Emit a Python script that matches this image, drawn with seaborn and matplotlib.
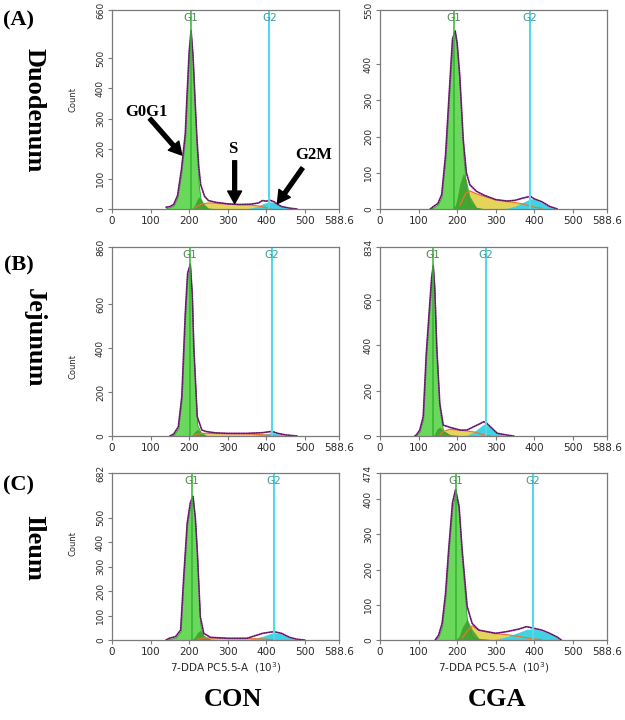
import numpy as np
import matplotlib
matplotlib.use("Agg")
import matplotlib.pyplot as plt
import seaborn as sns
from matplotlib.ticker import MultipleLocator, FixedLocator

# --- style ---
sns.set_style("white")
plt.rcParams["font.family"] = ["DejaVu Sans"]
SERIF = ["Liberation Serif", "DejaVu Serif"]

# --- data (channel x 10^3, counts) ---
# Duodenum, CON
A_CON_X = [140, 150, 160, 170, 180, 190, 195, 200, 205, 210, 215, 220, 225, 230, 240,
           250, 270, 300, 330, 360, 380, 390, 400, 410, 420, 430, 440, 460, 480]
A_CON_TOTAL = [6, 8, 15, 45, 130, 250, 390, 520, 592, 510, 370, 240, 140, 80, 42,
               28, 22, 17, 15, 16, 20, 28, 26, 29, 24, 15, 8, 3, 0]
A_CON_G1 = [3, 6, 12, 40, 120, 240, 380, 510, 580, 490, 340, 190, 80, 30, 6,
            1, 0, 0, 0, 0, 0, 0, 0, 0, 0, 0, 0, 0, 0]
A_CON_G1B = [0, 0, 0, 0, 0, 0, 0, 0, 0, 5, 15, 30, 40, 35, 15,
             3, 0, 0, 0, 0, 0, 0, 0, 0, 0, 0, 0, 0, 0]
A_CON_S = [0, 0, 0, 0, 0, 0, 0, 0, 0, 0, 3, 8, 12, 15, 18,
           20, 19, 16, 14, 13, 10, 7, 4, 2, 0, 0, 0, 0, 0]
A_CON_G2 = [0, 0, 0, 0, 0, 0, 0, 0, 0, 0, 0, 0, 0, 0, 0,
            0, 0, 0, 0, 3, 10, 17, 21, 24, 22, 14, 8, 2, 0]

# Duodenum, CGA
A_CGA_X = [130, 140, 150, 160, 170, 180, 188, 195, 200, 207, 216, 224, 233, 250, 270,
           300, 330, 350, 370, 390, 400, 420, 440, 460]
A_CGA_TOTAL = [0, 8, 15, 40, 150, 330, 470, 492, 460, 366, 190, 100, 67, 49, 38,
               26, 22, 24, 30, 35, 28, 20, 7, 0]
A_CGA_G1 = [0, 5, 12, 35, 140, 320, 460, 480, 440, 330, 150, 50, 15, 2, 0,
            0, 0, 0, 0, 0, 0, 0, 0, 0]
A_CGA_G1B = [0, 0, 0, 0, 0, 0, 0, 10, 30, 70, 98, 80, 35, 5, 0,
             0, 0, 0, 0, 0, 0, 0, 0, 0]
A_CGA_S = [0, 0, 0, 0, 0, 0, 0, 0, 0, 10, 30, 45, 50, 42, 35,
           25, 20, 18, 14, 8, 5, 2, 0, 0]
A_CGA_G2 = [0, 0, 0, 0, 0, 0, 0, 0, 0, 0, 0, 0, 0, 0, 0,
            0, 2, 8, 18, 28, 28, 18, 6, 0]

# Jejunum, CON
B_CON_X = [150, 160, 172, 181, 190, 196, 203, 208, 212, 221, 233, 245, 270, 300, 350,
           390, 410, 420, 430, 450, 480]
B_CON_TOTAL = [0, 9, 42, 179, 558, 740, 782, 650, 406, 88, 27, 20, 14, 12, 12,
               15, 20, 18, 12, 5, 0]
B_CON_G1 = [0, 5, 35, 170, 550, 730, 770, 620, 370, 50, 5, 0, 0, 0, 0,
            0, 0, 0, 0, 0, 0]
B_CON_G1B = [0, 0, 0, 0, 0, 0, 0, 5, 15, 30, 15, 3, 0, 0, 0,
             0, 0, 0, 0, 0, 0]
B_CON_S = [0, 0, 0, 0, 0, 0, 0, 0, 3, 8, 12, 12, 11, 10, 9,
           6, 3, 1, 0, 0, 0]
B_CON_G2 = [0, 0, 0, 0, 0, 0, 0, 0, 0, 0, 0, 0, 0, 0, 0,
            8, 14, 15, 10, 4, 0]

# Jejunum, CGA
B_CGA_X = [90, 94, 103, 112, 120, 129, 134, 138, 142, 147, 155, 164, 182, 208, 225,
           243, 260, 269, 277, 286, 304, 330, 347]
B_CGA_TOTAL = [0, 4, 26, 85, 364, 584, 700, 752, 650, 394, 144, 48, 38, 26, 26,
               41, 55, 63, 56, 41, 12, 4, 0]
B_CGA_G1 = [0, 2, 20, 75, 350, 570, 690, 740, 630, 370, 110, 20, 3, 0, 0,
            0, 0, 0, 0, 0, 0, 0, 0]
B_CGA_G1B = [0, 0, 0, 0, 0, 0, 0, 0, 10, 30, 40, 25, 5, 0, 0,
             0, 0, 0, 0, 0, 0, 0, 0]
B_CGA_S = [0, 0, 0, 0, 0, 0, 0, 0, 0, 0, 5, 20, 30, 25, 22,
           18, 10, 6, 3, 1, 0, 0, 0]
B_CGA_G2 = [0, 0, 0, 0, 0, 0, 0, 0, 0, 0, 0, 0, 0, 0, 3,
            18, 40, 52, 50, 38, 12, 2, 0]

# Ileum, CON
C_CON_X = [140, 148, 165, 178, 186, 195, 203, 210, 216, 221, 229, 238, 255, 300, 350,
           390, 410, 420, 440, 460, 480, 500]
C_CON_TOTAL = [0, 7, 14, 41, 259, 477, 560, 587, 500, 368, 95, 27, 11, 7, 7,
               27, 32, 34, 27, 11, 3, 0]
C_CON_G1 = [0, 4, 10, 35, 250, 470, 550, 578, 480, 340, 60, 8, 1, 0, 0,
            0, 0, 0, 0, 0, 0, 0]
C_CON_G1B = [0, 0, 0, 0, 0, 0, 0, 5, 15, 30, 40, 20, 3, 0, 0,
             0, 0, 0, 0, 0, 0, 0]
C_CON_S = [0, 0, 0, 0, 0, 0, 0, 0, 0, 3, 6, 8, 8, 6, 6,
           4, 2, 1, 0, 0, 0, 0]
C_CON_G2 = [0, 0, 0, 0, 0, 0, 0, 0, 0, 0, 0, 0, 0, 0, 0,
            15, 26, 30, 25, 10, 2, 0]

# Ileum, CGA
C_CGA_X = [143, 152, 161, 170, 178, 188, 196, 205, 213, 226, 239, 256, 300, 330, 360,
           380, 400, 420, 440, 460, 470]
C_CGA_TOTAL = [0, 14, 47, 133, 256, 390, 427, 380, 256, 95, 47, 28, 19, 24, 31,
               38, 33, 28, 19, 8, 0]
C_CGA_G1 = [0, 10, 40, 125, 250, 380, 420, 360, 220, 50, 10, 1, 0, 0, 0,
            0, 0, 0, 0, 0, 0]
C_CGA_G1B = [0, 0, 0, 0, 0, 0, 0, 10, 35, 60, 30, 5, 0, 0, 0,
             0, 0, 0, 0, 0, 0]
C_CGA_S = [0, 0, 0, 0, 0, 0, 0, 0, 5, 25, 40, 28, 18, 15, 10,
           6, 3, 1, 0, 0, 0]
C_CGA_G2 = [0, 0, 0, 0, 0, 0, 0, 0, 0, 0, 0, 0, 2, 10, 22,
            30, 32, 26, 18, 7, 0]

# per-panel axis tops, gate positions and y tick values
Y_MAX = [660, 550, 860, 834, 682, 474]
G1_POS = [204, 191, 201, 138, 208, 196]
G2_POS = [408, 388, 414, 275, 420, 396]
Y_TICKS = [[0, 100, 200, 300, 400, 500, 660],
           [0, 100, 200, 300, 400, 550],
           [0, 200, 400, 600, 860],
           [0, 200, 400, 600, 834],
           [0, 100, 200, 300, 400, 500, 682],
           [0, 100, 200, 300, 400, 474]]
X_TICKS = [0, 100, 200, 300, 400, 500, 588.6]
X_TICK_LABELS = ["0", "100", "200", "300", "400", "500", "588.6"]
ROW_TAGS = ["(A)", "(B)", "(C)"]
ROW_NAMES = ["Duodenum", "Jejunum", "Ileum"]
COL_NAMES = ["CON", "CGA"]

# --- colours ---
G1_FILL = "#6ad85a"
G1_EDGE = "#2f9a2f"
G1B_FILL = "#3e9e2c"
S_FILL = "#e4d55a"
S_EDGE = "#e8782a"
G2_FILL = "#3fd3e3"
TOTAL_COLOR = "#a22aa8"
G1_LINE = "#34b334"
G2_LINE = "#55d9e6"
SPINE = "#7a7a7a"

W, H = 625, 720
COL_LEFT = [112, 380]
AX_W = 227
ROW_TOP = [10, 247, 473]
ROW_BOT = [209, 436, 640]
COUNT_Y = [0.55, 0.37, 0.575]


def draw_panel(ax, x, total, g1, g1b, s, g2, ymax, g1pos, g2pos, yticks):
    x = np.array(x, float)
    s = np.array(s, float)
    ax.fill_between(x, 0, s, color=S_FILL, lw=0)
    s_top = np.where(s > 0, s, np.nan)
    ax.plot(x, s_top, color=S_EDGE, lw=0.9)
    ax.fill_between(x, 0, g2, color=G2_FILL, lw=0)
    ax.fill_between(x, 0, g1, facecolor=G1_FILL, edgecolor=G1_EDGE, lw=0.6)
    ax.fill_between(x, 0, g1b, color=G1B_FILL, lw=0, alpha=0.85)
    sns.lineplot(x=x, y=total, ax=ax, color=TOTAL_COLOR, lw=1.2, estimator=None)
    sns.lineplot(x=x, y=total, ax=ax, color="#202020", lw=0.6, estimator=None,
                 linestyle=(0, (2, 1)))
    ax.axvline(g1pos, color=G1_LINE, lw=1.1)
    ax.axvline(g2pos, color=G2_LINE, lw=1.5)
    tr = ax.get_xaxis_transform()
    ax.text(g1pos, 0.985, "G1", transform=tr, ha="center", va="top",
            fontsize=7.5, color="#4c8a4c")
    ax.text(g2pos, 0.985, "G2", transform=tr, ha="center", va="top",
            fontsize=7.5, color="#3c9c9c")

    ax.set_xlim(0, 588.6)
    ax.set_ylim(0, ymax)
    ax.xaxis.set_major_locator(FixedLocator(X_TICKS))
    ax.set_xticklabels(X_TICK_LABELS)
    ax.xaxis.set_minor_locator(MultipleLocator(20))
    ax.yaxis.set_major_locator(FixedLocator(yticks))
    ax.yaxis.set_minor_locator(MultipleLocator(yticks[1] / 5))
    ax.tick_params(axis="both", which="major", direction="out", length=3,
                   width=0.8, color=SPINE, labelsize=7.5, labelcolor="#2a2a2a", pad=2)
    ax.tick_params(axis="both", which="minor", direction="out", length=1.6,
                   width=0.6, color=SPINE)
    ax.tick_params(axis="y", labelsize=6.5, labelrotation=90)
    for lab in ax.get_yticklabels():
        lab.set_va("center")
    ax.tick_params(left=True, bottom=True)
    for sp in ax.spines.values():
        sp.set_color(SPINE)
        sp.set_linewidth(0.9)
    ax.set_xlabel("")
    ax.set_ylabel("")


fig = plt.figure(figsize=(W / 100, H / 100), dpi=100)
fig.patch.set_facecolor("white")

panels = [
    (A_CON_X, A_CON_TOTAL, A_CON_G1, A_CON_G1B, A_CON_S, A_CON_G2),
    (A_CGA_X, A_CGA_TOTAL, A_CGA_G1, A_CGA_G1B, A_CGA_S, A_CGA_G2),
    (B_CON_X, B_CON_TOTAL, B_CON_G1, B_CON_G1B, B_CON_S, B_CON_G2),
    (B_CGA_X, B_CGA_TOTAL, B_CGA_G1, B_CGA_G1B, B_CGA_S, B_CGA_G2),
    (C_CON_X, C_CON_TOTAL, C_CON_G1, C_CON_G1B, C_CON_S, C_CON_G2),
    (C_CGA_X, C_CGA_TOTAL, C_CGA_G1, C_CGA_G1B, C_CGA_S, C_CGA_G2),
]

axes = []
for i, series in enumerate(panels):
    row, col = divmod(i, 2)
    rect = [COL_LEFT[col] / W, 1 - ROW_BOT[row] / H, AX_W / W,
            (ROW_BOT[row] - ROW_TOP[row]) / H]
    ax = fig.add_axes(rect)
    draw_panel(ax, *series, Y_MAX[i], G1_POS[i], G2_POS[i], Y_TICKS[i])
    if col == 0:
        ax.set_ylabel("Count", fontsize=6, color="#2a2a2a")
        ax.yaxis.set_label_coords(-35 / AX_W, COUNT_Y[row])
    if row == 2:
        ax.set_xlabel("7-DDA PC5.5-A  (10$^3$)", fontsize=7.5, color="#2a2a2a",
                      labelpad=2)
    axes.append(ax)

# phase annotations on the duodenum control panel
ax0 = axes[0]
arrow = dict(facecolor="black", edgecolor="black", width=2.8, headwidth=10,
             headlength=9, shrink=0)
ax0.text(90, 322, "G0G1", ha="center", va="center", fontsize=12,
         fontweight="bold", family=SERIF, color="black")
ax0.annotate("", xy=(181, 179), xytext=(98, 300), arrowprops=arrow)
ax0.text(313, 198, "S", ha="center", va="center", fontsize=12,
         fontweight="bold", family=SERIF, color="black")
ax0.annotate("", xy=(318, 18), xytext=(318, 160), arrowprops=arrow)
ax0.text(522, 180, "G2M", ha="center", va="center", fontsize=12,
         fontweight="bold", family=SERIF, color="black")
ax0.annotate("", xy=(429, 18), xytext=(494, 136), arrowprops=arrow)

# row and column labels
TAG_Y = [20, 265, 485]
NAME_Y = [110, 338, 548]
for r in range(3):
    fig.text(19 / W, 1 - TAG_Y[r] / H, ROW_TAGS[r], ha="center", va="center",
             fontsize=16, fontweight="bold", family=SERIF, color="black")
    fig.text(34 / W, 1 - NAME_Y[r] / H, ROW_NAMES[r], ha="center", va="center",
             rotation=-90, fontsize=19, fontweight="bold", family=SERIF,
             color="black")
COL_X = [233, 497]
for c in range(2):
    fig.text(COL_X[c] / W, 1 - 700 / H, COL_NAMES[c], ha="center", va="center",
             fontsize=19, fontweight="bold", family=SERIF, color="black")

fig.savefig("out.png", dpi=100, facecolor="white")
